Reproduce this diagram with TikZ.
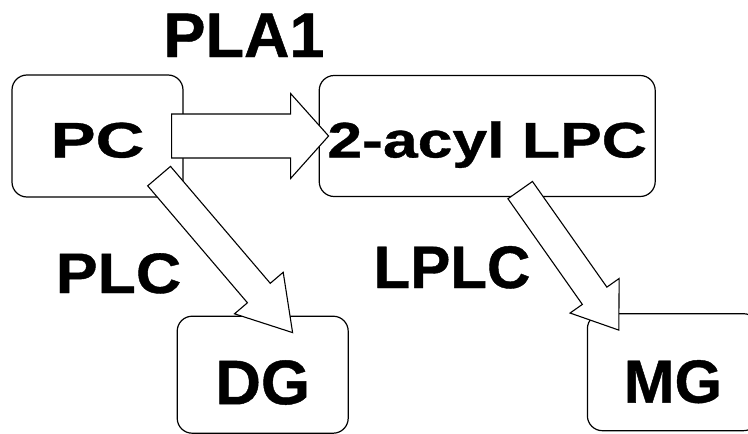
\documentclass[tikz,border=0pt]{standalone}
\usepackage{fontspec}
\setmainfont{Liberation Sans}[BoldFeatures={FakeBold=0.7}]
\usepackage{tikz}
\usetikzlibrary{positioning,calc}

% hollow block arrow: tail, tip, half shaft width, half head width, head length
\newcommand{\fatarrow}[5]{%
  \coordinate (fa-base) at ($(#2)!#5!(#1)$);
  \draw[fat] ($(#1)!#3!90:(#2)$) -- ($(fa-base)!#3!90:(#2)$)
    -- ($(fa-base)!#4!90:(#2)$) -- (#2) -- ($(fa-base)!#4!-90:(#2)$)
    -- ($(fa-base)!#3!-90:(#2)$) -- ($(#1)!#3!-90:(#2)$) -- cycle;
}
\newcommand{\boldsize}[1]{\fontsize{#1}{#1}\selectfont\bfseries}

\begin{document}
\begin{tikzpicture}[
  x=1pt, y=-1pt,
  box/.style={rectangle, draw, rounded corners=15pt, line width=1.2pt, minimum width=171pt, minimum height=122pt, inner sep=0pt, text depth=0pt},
  fat/.style={draw, fill=white, line width=1.1pt, line join=miter},
  lab/.style={inner sep=0pt, anchor=base},
]
\useasboundingbox (0,0) rectangle (748,434);

\node[box, text height=43pt, font=\boldsize{50}] (pc) at (97.5,136) {\scalebox{1.35}[1]{PC}};
\node[box, right=135pt of pc, minimum width=336pt, minimum height=121pt, text height=43pt, font=\boldsize{50}] (lpc) {\scalebox{1.25}[1]{2-acyl LPC}};
\node[box, below right=118pt and -7pt of pc, minimum height=117pt, text height=59pt, font=\boldsize{63}] (dg) {DG};
\node[box, below right=116pt and -69pt of lpc, minimum height=117pt, text height=61pt, font=\boldsize{61}] (mg) {MG};

\node[lab, font=\boldsize{63}] (pla1) at (244,57) {PLA1};
\node[lab, font=\boldsize{57}] (plc) at (118.5,293) {\scalebox{1.1}[1]{PLC}};
\node[lab, font=\boldsize{60}] (lplc) at (452,288) {LPLC};

\coordinate (pla1s) at ($(pc.east)+(-12,0)$);
\coordinate (pla1e) at ($(lpc.west)+(10,0)$);
\coordinate (plcs) at ($(pc.south east)+(-24.5,-21.5)$);
\coordinate (plce) at ($(dg.north west)+(116,17)$);
\coordinate (lplcs) at ($(lpc.south)+(33,-7)$);
\coordinate (lplce) at ($(mg.north west)+(32,17)$);

\fatarrow{pla1s}{pla1e}{22pt}{42.5pt}{38pt}
\fatarrow{plcs}{plce}{15pt}{32pt}{52pt}
\fatarrow{lplcs}{lplce}{15pt}{30pt}{42pt}

\end{tikzpicture}
\end{document}
